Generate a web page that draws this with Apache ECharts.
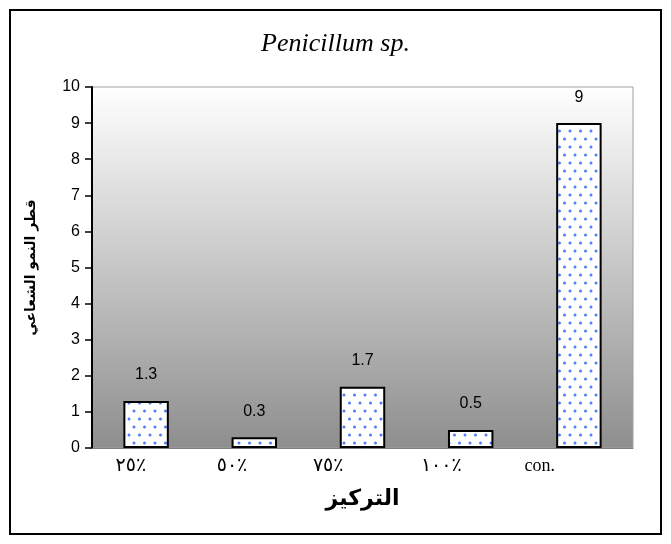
<!DOCTYPE html>
<html>
<head>
<meta charset="utf-8">
<script src="https://cdn.jsdelivr.net/npm/echarts@6/dist/echarts.min.js"></script>
<style>
  html, body { margin: 0; padding: 0; background: #fff; }
  #chart { width: 671px; height: 544px; }
</style>
</head>
<body>
<div id="chart"></div>
<script>
// Concentration categories and measured radial growth diameter
const categories = ['٢٥٪', '٥٠٪', '٧٥٪', '١٠٠٪', 'con.'];
const growth = [1.3, 0.3, 1.7, 0.5, 9];
const yTicks = [0, 1, 2, 3, 4, 5, 6, 7, 8, 9, 10];
const titleText = 'Penicillum sp.';
const yName = 'قطر النمو الشعاعي';
const xName = 'التركيز';

// Dotted fill for the bars
function dotPattern() {
  const c = document.createElement('canvas');
  c.width = 21; c.height = 16;
  const ctx = c.getContext('2d');
  ctx.fillStyle = '#ffffff';
  ctx.fillRect(0, 0, c.width, c.height);
  ctx.fillStyle = '#4f7df5';
  const pts = [[3, 3], [13.5, 3], [8, 11], [18.5, 11]];
  pts.forEach(p => { ctx.beginPath(); ctx.arc(p[0], p[1], 1.5, 0, Math.PI * 2); ctx.fill(); });
  return c;
}

// Per-label right padding so the category labels sit where they are printed
const labelPad = [0, 7, 19, 9, 24];
const rich = {};
labelPad.forEach((p, i) => {
  rich['c' + i] = {
    padding: [0, p, 0, 0],
    fontFamily: i === 4 ? 'Liberation Serif' : 'DejaVu Sans',
    fontSize: i === 4 ? 18 : 19,
    color: '#000'
  };
});

const chart = echarts.init(document.getElementById('chart'), null, { renderer: 'canvas' });
chart.setOption({
  animation: false,
  backgroundColor: '#ffffff',
  title: {
    text: titleText,
    left: 'center',
    top: 26,
    textStyle: { fontFamily: 'Liberation Serif', fontStyle: 'italic', fontWeight: 'normal', fontSize: 26, color: '#000' }
  },
  graphic: [{
    type: 'rect',
    shape: { x: 10, y: 10, width: 651, height: 524 },
    style: { fill: 'none', stroke: '#000', lineWidth: 2 },
    z: 100
  }],
  grid: {
    left: 92, right: 38, top: 87, bottom: 96,
    show: true,
    borderColor: '#a0a0a0',
    borderWidth: 1,
    backgroundColor: new echarts.graphic.LinearGradient(0, 0, 0, 1, [
      { offset: 0, color: '#ffffff' },
      { offset: 1, color: '#8e8e8e' }
    ])
  },
  xAxis: {
    type: 'category',
    data: categories,
    name: xName,
    nameLocation: 'middle',
    nameGap: 40,
    nameTextStyle: { fontFamily: 'DejaVu Sans', fontWeight: 'bold', fontSize: 22, color: '#000' },
    axisLine: { lineStyle: { color: '#808080', width: 1 } },
    axisTick: { show: false },
    axisLabel: {
      margin: 9,
      align: 'right',
      formatter: (v, i) => '{c' + i + '|' + v + '}',
      rich: rich
    }
  },
  yAxis: {
    type: 'value',
    min: yTicks[0],
    max: yTicks[yTicks.length - 1],
    interval: 1,
    name: yName,
    nameLocation: 'middle',
    nameRotate: 90,
    nameGap: 54,
    nameTextStyle: { fontFamily: 'DejaVu Sans', fontWeight: 'bold', fontSize: 14, color: '#000' },
    axisLine: { show: true, lineStyle: { color: '#000', width: 2 } },
    axisTick: { show: true, inside: false, length: 7, lineStyle: { color: '#000', width: 1.5 } },
    axisLabel: { margin: 12, fontFamily: 'Liberation Sans', fontSize: 16, color: '#000' },
    splitLine: { show: false }
  },
  series: [{
    type: 'bar',
    data: growth,
    barWidth: '42%',
    itemStyle: {
      color: { image: dotPattern(), repeat: 'repeat' },
      borderColor: '#000',
      borderWidth: 2
    },
    label: {
      show: true,
      position: 'top',
      distance: 18,
      fontFamily: 'Liberation Sans',
      fontSize: 16,
      color: '#000'
    }
  }]
});
</script>
</body>
</html>
